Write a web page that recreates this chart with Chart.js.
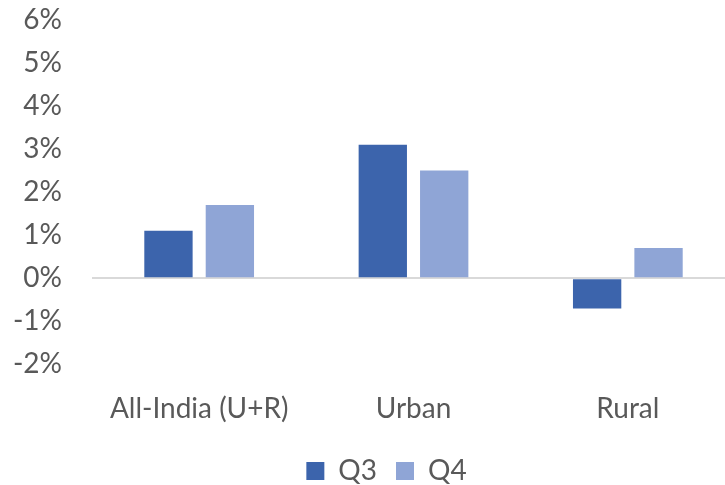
<!DOCTYPE html>
<html>
<head>
<meta charset="utf-8">
<script src="https://cdn.jsdelivr.net/npm/chart.js@4/dist/chart.umd.min.js"></script>
<style>
  html, body { margin: 0; padding: 0; background: #fff; overflow: hidden; }
  body { height: 485px; }
  #wrap { position: relative; top: -27px; width: 735px; height: 522px; }
</style>
</head>
<body>
<div id="wrap"><canvas id="chart"></canvas></div>
<script>
const categories = ["All-India (U+R)", "Urban", "Rural"];
const q3Values = [1.1, 3.1, -0.7];
const q4Values = [1.7, 2.5, 0.7];
const seriesNames = ["Q3", "Q4"];

const textColor = "#595959";
const fontFamily = "Lato, 'Open Sans', sans-serif";

// legend sits a little right of the canvas centre in the original
const shiftLegend = {
  id: "shiftLegend",
  afterLayout(chart) {
    if (chart.legend) {
      chart.legend.left += 19;
      chart.legend.right += 19;
    }
  }
};

const ctx = document.getElementById("chart").getContext("2d");

new Chart(ctx, {
  type: "bar",
  data: {
    labels: categories,
    datasets: [
      {
        label: seriesNames[0],
        data: q3Values,
        backgroundColor: "#3c64ac",
        borderWidth: 0,
        categoryPercentage: 0.573,
        barPercentage: 0.787
      },
      {
        label: seriesNames[1],
        data: q4Values,
        backgroundColor: "#8fa5d6",
        borderWidth: 0,
        categoryPercentage: 0.573,
        barPercentage: 0.787
      }
    ]
  },
  plugins: [shiftLegend],
  options: {
    responsive: true,
    maintainAspectRatio: false,
    animation: false,
    layout: {
      autoPadding: false,
      padding: { top: 19, left: 0, right: 0, bottom: 0 }
    },
    scales: {
      x: {
        grid: { display: false, drawTicks: false },
        border: { display: false },
        // pull the legend up a bit without moving the labels
        afterFit: (scale) => { scale.height -= 16; },
        ticks: {
          color: textColor,
          padding: 28,
          font: { family: fontFamily, size: 28 }
        }
      },
      y: {
        min: -2,
        max: 6,
        border: { display: false },
        afterFit: (scale) => { scale.width = 92; },
        grid: {
          drawTicks: false,
          color: (c) => (c.tick && c.tick.value === 0 ? "#d9d9d9" : "rgba(0,0,0,0)"),
          lineWidth: 2
        },
        ticks: {
          stepSize: 1,
          color: textColor,
          padding: 30,
          font: { family: fontFamily, size: 28 },
          callback: (v) => v + "%"
        }
      }
    },
    plugins: {
      legend: {
        position: "bottom",
        labels: {
          color: textColor,
          boxWidth: 18,
          boxHeight: 18,
          padding: 19,
          font: { family: fontFamily, size: 28 }
        }
      },
      tooltip: { enabled: false }
    }
  }
});
</script>
</body>
</html>
